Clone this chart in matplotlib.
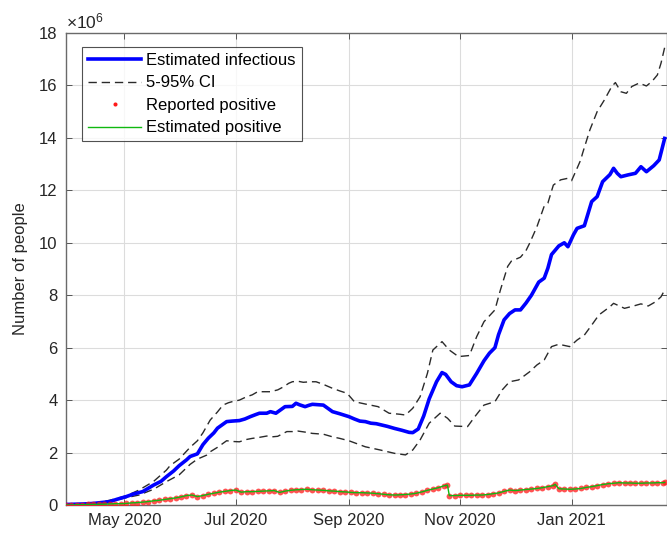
import numpy as np
import matplotlib
matplotlib.use("Agg")
import matplotlib.pyplot as plt
import matplotlib.dates as mdates

plt.rcParams["font.family"] = ["Liberation Sans", "DejaVu Sans"]
plt.rcParams["mathtext.default"] = "regular"

START = np.datetime64("2020-03-30")

# Estimated infectious (millions), days since START
inf_day = [0, 10, 15, 19, 24, 28, 33, 37, 42, 48, 52, 55, 59, 62, 66, 68, 72, 75, 78, 81,
           83, 86, 88, 91, 95, 98, 101, 104, 106, 110, 112, 115, 118, 120, 124, 126, 128, 131,
           133, 135, 141, 146, 150, 155, 158, 161, 164, 167, 170, 173, 176, 180, 184, 188, 190,
           193, 196, 199, 203, 206, 208, 211, 214, 217, 221, 225, 229, 232, 235, 237, 240, 243,
           246, 249, 252, 255, 259, 262, 264, 266, 270, 273, 275, 278, 280, 284, 288, 291, 294,
           298, 300, 302, 304, 308, 312, 315, 318, 322, 325, 328]
infectious = [0.02, 0.04, 0.06, 0.09, 0.13, 0.22, 0.32, 0.42, 0.51, 0.76, 0.90, 1.08, 1.30, 1.50,
              1.72, 1.85, 1.95, 2.30, 2.55, 2.75, 2.93, 3.08, 3.18, 3.20, 3.22, 3.28, 3.37, 3.45,
              3.50, 3.50, 3.56, 3.50, 3.65, 3.75, 3.76, 3.88, 3.82, 3.75, 3.80, 3.84, 3.81, 3.56,
              3.48, 3.37, 3.28, 3.20, 3.18, 3.12, 3.10, 3.05, 3.00, 2.92, 2.85, 2.77, 2.76, 2.90,
              3.40, 4.05, 4.70, 5.05, 4.98, 4.70, 4.55, 4.51, 4.58, 5.02, 5.50, 5.79, 6.00, 6.50,
              7.06, 7.30, 7.44, 7.44, 7.70, 8.00, 8.50, 8.65, 9.03, 9.55, 9.88, 10.00, 9.85, 10.30,
              10.55, 10.65, 11.57, 11.76, 12.33, 12.60, 12.84, 12.65, 12.52, 12.59, 12.65, 12.90,
              12.71, 12.94, 13.16, 13.98]

# Upper bound of the 5-95% interval (millions)
hi_day = [0, 10, 15, 19, 25, 33, 40, 48, 55, 57, 62, 64, 68, 72, 75, 79, 83, 86, 89, 91, 95, 99,
          102, 105, 109, 112, 116, 119, 122, 124, 127, 130, 134, 137, 141, 146, 150, 154, 158,
          164, 171, 177, 183, 186, 190, 194, 198, 201, 206, 210, 215, 221, 225, 229, 235, 238,
          242, 244, 249, 252, 254, 258, 262, 264, 267, 271, 275, 277, 280, 282, 283, 287, 291,
          295, 299, 301, 304, 307, 310, 314, 318, 321, 324, 326, 328]
ci_hi = [0.02, 0.05, 0.07, 0.10, 0.20, 0.35, 0.57, 0.90, 1.33, 1.50, 1.75, 1.90, 2.20, 2.45,
         2.75, 3.24, 3.55, 3.81, 3.90, 3.94, 4.00, 4.13, 4.20, 4.32, 4.32, 4.32, 4.39, 4.50, 4.64,
         4.70, 4.72, 4.68, 4.70, 4.70, 4.60, 4.45, 4.35, 4.26, 3.94, 3.85, 3.75, 3.50, 3.46, 3.43,
         3.69, 4.13, 5.02, 5.91, 6.23, 5.91, 5.66, 5.70, 6.42, 6.99, 7.44, 8.20, 9.10, 9.30, 9.45,
         9.70, 9.98, 10.61, 11.40, 11.51, 12.20, 12.40, 12.46, 12.37, 12.84, 13.16, 13.41, 14.30,
         15.00, 15.45, 15.96, 16.11, 15.76, 15.70, 15.96, 16.09, 15.98, 16.15, 16.40, 16.85, 17.45]

# Lower bound of the 5-95% interval (millions)
lo_day = [0, 10, 19, 25, 33, 40, 48, 55, 62, 68, 72, 77, 79, 83, 88, 92, 95, 99, 102, 106, 110,
          113, 116, 121, 124, 127, 131, 135, 141, 146, 150, 155, 164, 172, 180, 186, 190, 194,
          199, 205, 209, 213, 220, 224, 229, 235, 239, 243, 248, 254, 258, 262, 266, 270, 276,
          280, 284, 288, 292, 298, 300, 306, 311, 315, 319, 323, 326, 328]
ci_lo = [0.02, 0.04, 0.08, 0.15, 0.28, 0.38, 0.60, 0.89, 1.15, 1.55, 1.75, 1.90, 2.03, 2.20,
         2.45, 2.42, 2.41, 2.50, 2.54, 2.58, 2.63, 2.60, 2.62, 2.80, 2.80, 2.82, 2.78, 2.73, 2.70,
         2.60, 2.54, 2.45, 2.22, 2.10, 1.97, 1.91, 2.10, 2.48, 3.12, 3.50, 3.31, 3.01, 2.99, 3.37,
         3.81, 3.94, 4.39, 4.70, 4.77, 5.08, 5.34, 5.53, 6.04, 6.13, 6.04, 6.29, 6.48, 6.86, 7.25,
         7.56, 7.69, 7.50, 7.59, 7.67, 7.59, 7.75, 7.94, 8.20]

# Reported positive cases (millions)
pos_day = [0, 3, 6, 9, 12, 15, 18, 21, 24, 27, 30, 33, 36, 39, 42, 45, 48, 51, 54, 57, 60, 63,
           66, 69, 72, 75, 78, 81, 84, 87, 90, 93, 96, 99, 102, 105, 108, 111, 114, 117, 120, 123,
           126, 129, 132, 135, 138, 141, 144, 147, 150, 153, 156, 159, 162, 165, 168, 171, 174,
           177, 180, 183, 186, 189, 192, 195, 198, 201, 204, 207, 209, 210, 213, 216, 219, 222,
           225, 228, 231, 234, 237, 240, 243, 246, 249, 252, 255, 258, 261, 264, 267, 268, 270,
           273, 276, 279, 282, 285, 288, 291, 294, 297, 300, 303, 306, 309, 312, 315, 318, 321,
           324, 327, 328]
reported_pos = [0.00, 0.00, 0.01, 0.01, 0.02, 0.02, 0.03, 0.03, 0.04, 0.05, 0.05, 0.06, 0.08,
                0.09, 0.11, 0.13, 0.16, 0.18, 0.21, 0.24, 0.27, 0.31, 0.36, 0.38, 0.32, 0.36,
                0.41, 0.45, 0.49, 0.52, 0.55, 0.57, 0.49, 0.51, 0.51, 0.52, 0.53, 0.54, 0.55,
                0.48, 0.53, 0.56, 0.58, 0.59, 0.60, 0.58, 0.57, 0.56, 0.54, 0.53, 0.51, 0.50,
                0.48, 0.47, 0.47, 0.46, 0.45, 0.43, 0.41, 0.39, 0.38, 0.39, 0.40, 0.42, 0.45,
                0.50, 0.56, 0.61, 0.66, 0.73, 0.76, 0.36, 0.36, 0.37, 0.37, 0.37, 0.38, 0.38,
                0.40, 0.43, 0.46, 0.52, 0.57, 0.55, 0.57, 0.59, 0.61, 0.63, 0.66, 0.70, 0.74,
                0.79, 0.62, 0.61, 0.60, 0.61, 0.63, 0.67, 0.70, 0.74, 0.78, 0.81, 0.83, 0.85,
                0.84, 0.84, 0.83, 0.83, 0.84, 0.84, 0.85, 0.85, 0.86]
# Model-estimated positives follow the reported counts closely
est_pos = list(reported_pos)

month_ticks = ["2020-05-01", "2020-07-01", "2020-09-01", "2020-11-01", "2021-01-01"]
y_ticks = [0, 2, 4, 6, 8, 10, 12, 14, 16, 18]


def to_dates(days):
    return START + np.array(days).astype("timedelta64[D]")


fig = plt.figure(figsize=(6.67, 5.38), dpi=100)
ax = fig.add_axes([66 / 667, 33 / 538, 600.5 / 667, 472 / 538])

ax.plot(to_dates(inf_day), infectious, color="#0000ff", lw=2.6, label="Estimated infectious",
        zorder=4)
ax.plot(to_dates(hi_day), ci_hi, color="#2a2a2a", lw=1.0, dashes=(6, 3.5), label="5-95% CI",
        zorder=3)
ax.plot(to_dates(lo_day), ci_lo, color="#2a2a2a", lw=1.0, dashes=(6, 3.5), zorder=3)
ax.plot(to_dates(pos_day), reported_pos, ls="none", marker="o", ms=4.2, mew=0,
        color="#ff1a1a", alpha=0.75, label="Reported positive", zorder=5)
ax.plot(to_dates(pos_day), est_pos, color="#10b810", lw=1.0, label="Estimated positive",
        zorder=6)

ax.set_xlim(START, START + np.timedelta64(329, "D"))
ax.set_ylim(0, 18)
ax.set_xticks([np.datetime64(d) for d in month_ticks])
ax.xaxis.set_major_formatter(mdates.DateFormatter("%b %Y"))
ax.set_yticks(y_ticks)
ax.set_yticklabels([str(v) for v in y_ticks])

ax.grid(True, color="#dcdcdc", lw=0.8)
ax.set_axisbelow(True)
for s in ax.spines.values():
    s.set_color("#6a6a6a")
    s.set_linewidth(1.0)
ax.tick_params(direction="in", length=4, width=0.7, color="#555555", top=True, right=True,
               labelsize=12, labelcolor="#262626", pad=6)

ax.set_ylabel("Number of people", fontsize=12, color="#262626", labelpad=8)
ax.text(0.0, 1.004, "×10$^{6}$", transform=ax.transAxes, fontsize=12.5, color="#262626",
        ha="left", va="bottom")

leg = ax.legend(loc="upper left", bbox_to_anchor=(0.027, 0.970), borderaxespad=0,
                fontsize=12, frameon=True, fancybox=False, edgecolor="#262626",
                handlelength=3.2, handletextpad=0.3, labelspacing=0.45, borderpad=0.35,
                markerscale=0.7)
leg.get_frame().set_linewidth(0.8)
for h in leg.legend_handles:
    h.set_alpha(1.0)

fig.savefig("out.png", dpi=100)
